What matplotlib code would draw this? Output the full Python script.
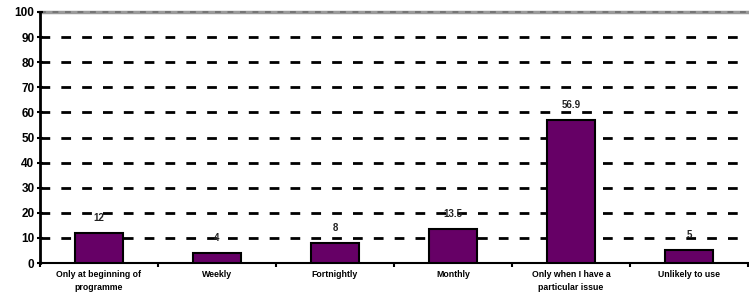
import matplotlib
matplotlib.use("Agg")
import matplotlib.pyplot as plt
import numpy as np

categories = ["Only at beginning of\nprogramme", "Weekly", "Fortnightly", "Monthly",
              "Only when I have a\nparticular issue", "Unlikely to use"]
values = [12, 4, 8, 13.5, 56.9, 5]
value_labels = ["12", "4", "8", "13.5", "56.9", "5"]
yticks = [0, 10, 20, 30, 40, 50, 60, 70, 80, 90, 100]

plt.rcParams['font.family'] = ['Liberation Sans', 'DejaVu Sans']

fig = plt.figure(figsize=(7.49, 2.95), dpi=100)
ax = fig.add_axes([40/749, 32/295, 708/749, 251/295])

x = np.arange(len(categories))
ax.set_xlim(-0.5, len(categories) - 0.5)
ax.set_ylim(0, 100)

for y in yticks[1:-1]:
    ax.axhline(y, color='black', lw=2, ls=(0, (3.5, 4)), zorder=1)
ax.axhline(100, color='#9a9a9a', lw=2.5, zorder=1, clip_on=False)
ax.axhline(100, color='#6e6e6e', lw=1.2, ls=(0, (3.5, 4)), zorder=1, clip_on=False)

ax.bar(x, values, width=0.41, color='#660066', edgecolor='black', linewidth=1.5, zorder=3)
for xi, v, lab in zip(x, values, value_labels):
    ax.text(xi, v + 4, lab, ha='center', va='bottom', fontsize=7, fontweight='bold', color='#222222')

ax.set_yticks(yticks)
ax.set_yticklabels([str(t) for t in yticks], fontsize=8.5, fontweight='bold')
ax.set_xticks(x)
ax.set_xticklabels(categories, fontsize=6.3, fontweight='bold', linespacing=1.55)
ax.set_xticks(np.arange(len(categories) + 1) - 0.5, minor=True)
ax.tick_params(axis='x', which='major', length=0, pad=5)
ax.tick_params(axis='x', which='minor', length=3, width=1.5, direction='out')
ax.tick_params(axis='y', length=4, width=1.5, direction='inout', pad=2)

for s in ['top', 'right']:
    ax.spines[s].set_visible(False)
ax.spines['left'].set_linewidth(2)
ax.spines['bottom'].set_linewidth(1.5)

fig.savefig("out.png", dpi=100)
